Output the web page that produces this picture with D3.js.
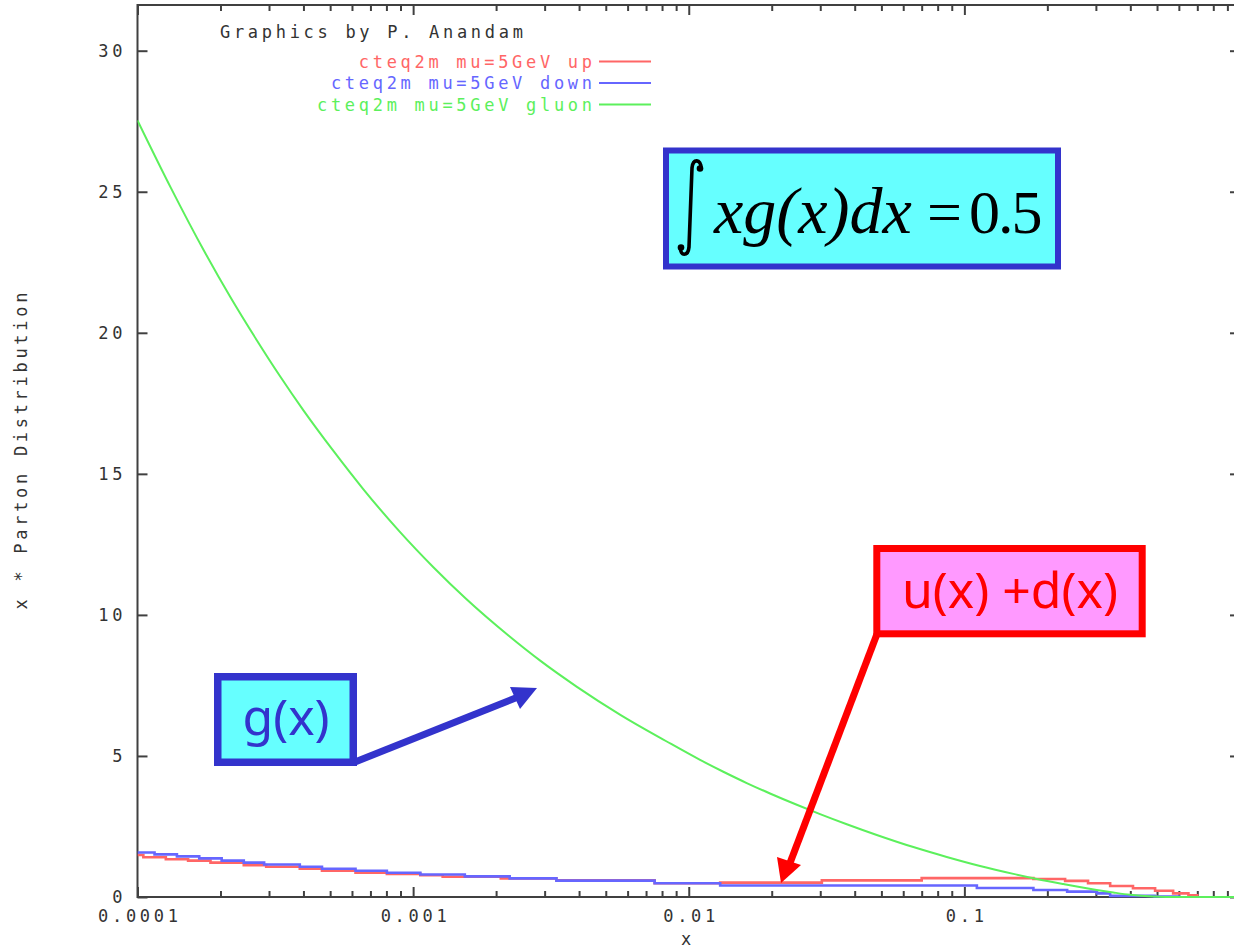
<!DOCTYPE html>
<html>
<head>
<meta charset="utf-8">
<script src="https://cdn.jsdelivr.net/npm/d3@7"></script>
<style>
  body { margin: 0; background: #ffffff; }
  svg { display: block; }
</style>
</head>
<body>
<svg id="chart" width="1234" height="950"></svg>
<script>
// CTEQ2M parton distributions x*f(x) at mu = 5 GeV, log-x axis

// x axis ticks (the label at x = 1 falls outside the page, so it stays blank)
const xTickValues = [1e-4, 1e-3, 1e-2, 1e-1, 1];
const xTickLabels = ["0.0001", "0.001", "0.01", "0.1", ""];
// y axis ticks
const yTickValues = [0, 5, 10, 15, 20, 25, 30];
const yTickLabels = ["0", "5", "10", "15", "20", "25", "30"];

// series names for the key
const seriesNames = ["cteq2m mu=5GeV up", "cteq2m mu=5GeV down", "cteq2m mu=5GeV gluon"];

// up quark: step knots (x, x*u)
const upX = [1e-4, 1.05e-4, 1.267e-4, 1.526e-4, 1.84e-4, 2.43e-4, 2.93e-4, 3.88e-4, 4.67e-4,
             6.18e-4, 8.03e-4, 1.062e-3, 1.28e-3, 2.08e-3, 3.31e-3, 7.52e-3, 1.30e-2,
             3.04e-2, 7.0e-2, 0.178, 0.232, 0.281, 0.338, 0.409, 0.492, 0.572, 0.65, 0.70];
const upY = [1.49, 1.41, 1.34, 1.29, 1.22, 1.13, 1.07, 1.00, 0.93,
             0.86, 0.82, 0.77, 0.72, 0.66, 0.59, 0.49, 0.51,
             0.59, 0.67, 0.64, 0.57, 0.49, 0.39, 0.31, 0.22, 0.13, 0.06, 0.0];

// down quark: step knots (x, x*d)
const downX = [1e-4, 1.153e-4, 1.39e-4, 1.675e-4, 2.02e-4, 2.43e-4, 2.88e-4, 3.88e-4, 4.67e-4,
               6.18e-4, 8.03e-4, 1.062e-3, 1.54e-3, 2.24e-3, 3.31e-3, 7.52e-3, 1.30e-2,
               0.111, 0.178, 0.236, 0.303, 0.338, 0.49, 0.60];
const downY = [1.58, 1.51, 1.44, 1.37, 1.29, 1.22, 1.15, 1.07, 1.00,
               0.93, 0.86, 0.80, 0.73, 0.66, 0.58, 0.49, 0.41,
               0.32, 0.25, 0.19, 0.13, 0.04, 0.02, 0.0];

// gluon: sampled points (x, x*g)
const gluonX = [1e-4, 1.323e-4, 1.745e-4, 2.177e-4, 2.716e-4, 3.295e-4, 4.0e-4, 5.13e-4, 6.58e-4,
                8.92e-4, 1.187e-3, 1.552e-3, 2.223e-3, 2.907e-3, 3.917e-3, 5.685e-3, 8.26e-3,
                1.099e-2, 1.335e-2, 1.623e-2, 1.972e-2, 2.466e-2, 2.995e-2, 3.744e-2, 4.81e-2,
                6.53e-2, 8.63e-2, 0.114, 0.1506, 0.1832, 0.2287, 0.302, 0.347, 0.399, 0.484,
                0.6, 1.0];
const gluonY = [27.53, 25.13, 22.90, 21.25, 19.72, 18.45, 17.25, 15.82, 14.47,
                12.96, 11.68, 10.58, 9.26, 8.36, 7.46, 6.44, 5.53,
                4.86, 4.44, 4.04, 3.67, 3.27, 2.94, 2.58, 2.20,
                1.77, 1.42, 1.10, 0.82, 0.64, 0.46, 0.25, 0.16, 0.08, 0.02,
                0.0, 0.0];

const svg = d3.select("#chart");
const mono = "'DejaVu Sans Mono', 'Liberation Mono', monospace";
const LS = 3.7;            // letter spacing of the terminal-style font
const axisColor = "#404040";
const textColor = "#333333";

const frame = { left: 137.5, right: 1240, top: 5, bottom: 897 };

const x = d3.scaleLog().domain([1e-4, 1]).range([frame.left, frame.right]);
const y = d3.scaleLinear().domain([0, 30]).range([frame.bottom, 50.7]);

// minor log ticks 2..9 per decade
const minorTicks = [];
[1e-4, 1e-3, 1e-2, 1e-1].forEach(dec => {
  for (let k = 2; k <= 9; k++) minorTicks.push(dec * k);
});

function styleAxis(g) {
  g.select(".domain").remove();
  g.selectAll(".tick line").attr("stroke", axisColor).attr("stroke-width", 2);
  g.selectAll(".tick text")
    .attr("fill", textColor)
    .style("font-family", mono)
    .style("font-size", "17px")
    .style("letter-spacing", LS + "px");
}

// bottom axis, major ticks with labels
const gBottom = svg.append("g")
  .attr("transform", `translate(0,${frame.bottom})`)
  .call(d3.axisBottom(x).tickValues(xTickValues)
    .tickFormat((d, i) => xTickLabels[i]).tickSize(-10).tickPadding(13));
styleAxis(gBottom);
gBottom.selectAll(".tick text").attr("dx", LS / 2);

svg.append("g")
  .attr("transform", `translate(0,${frame.bottom})`)
  .call(d3.axisBottom(x).tickValues(minorTicks).tickFormat("").tickSize(-6))
  .call(styleAxis);

// top mirror ticks
svg.append("g")
  .attr("transform", `translate(0,${frame.top})`)
  .call(d3.axisTop(x).tickValues(xTickValues).tickFormat("").tickSize(-10))
  .call(styleAxis);
svg.append("g")
  .attr("transform", `translate(0,${frame.top})`)
  .call(d3.axisTop(x).tickValues(minorTicks).tickFormat("").tickSize(-6))
  .call(styleAxis);

// left axis with labels
const gLeft = svg.append("g")
  .attr("transform", `translate(${frame.left},0)`)
  .call(d3.axisLeft(y).tickValues(yTickValues)
    .tickFormat((d, i) => yTickLabels[i]).tickSize(-10).tickPadding(15));
styleAxis(gLeft);
gLeft.selectAll(".tick text").attr("dx", LS);

// right mirror ticks
svg.append("g")
  .attr("transform", `translate(${frame.right},0)`)
  .call(d3.axisRight(y).tickValues(yTickValues).tickFormat("").tickSize(-10))
  .call(styleAxis);

// frame
svg.append("rect")
  .attr("x", frame.left).attr("y", frame.top)
  .attr("width", frame.right - frame.left).attr("height", frame.bottom - frame.top)
  .attr("fill", "none").attr("stroke", axisColor).attr("stroke-width", 2);

// axis titles
svg.append("text")
  .attr("transform", "translate(27,451) rotate(-90)")
  .attr("text-anchor", "middle").attr("dx", LS / 2)
  .attr("fill", textColor)
  .style("font-family", mono).style("font-size", "17px").style("letter-spacing", LS + "px")
  .text("x * Parton Distribution");

svg.append("text")
  .attr("x", 686).attr("y", 945)
  .attr("text-anchor", "middle").attr("dx", LS / 2)
  .attr("fill", textColor)
  .style("font-family", mono).style("font-size", "17px").style("letter-spacing", LS + "px")
  .text("x");

// curves
svg.append("clipPath").attr("id", "plotClip")
  .append("rect")
  .attr("x", frame.left).attr("y", frame.top)
  .attr("width", frame.right - frame.left).attr("height", frame.bottom - frame.top + 1);

const plot = svg.append("g").attr("clip-path", "url(#plotClip)");
const stepLine = d3.line().x(d => x(d[0])).y(d => y(d[1])).curve(d3.curveStepAfter);
const smoothLine = d3.line().x(d => x(d[0])).y(d => y(d[1])).curve(d3.curveMonotoneX);

const colors = ["#ff6666", "#6666ff", "#5cf05c"];

plot.append("path").datum(d3.zip(upX, upY))
  .attr("d", stepLine).attr("fill", "none")
  .attr("stroke", colors[0]).attr("stroke-width", 2.6);
plot.append("path").datum(d3.zip(downX, downY))
  .attr("d", stepLine).attr("fill", "none")
  .attr("stroke", colors[1]).attr("stroke-width", 2.6);
plot.append("path").datum(d3.zip(gluonX, gluonY))
  .attr("d", smoothLine).attr("fill", "none")
  .attr("stroke", colors[2]).attr("stroke-width", 2);

// key
svg.append("text")
  .attr("x", 220).attr("y", 38)
  .attr("fill", textColor)
  .style("font-family", mono).style("font-size", "17px").style("letter-spacing", LS + "px")
  .text("Graphics by P. Anandam");

const keyRows = [61.5, 83, 104.5];
seriesNames.forEach((name, i) => {
  svg.append("text")
    .attr("x", 592).attr("y", keyRows[i] + 6)
    .attr("text-anchor", "end").attr("dx", LS)
    .attr("fill", colors[i])
    .style("font-family", mono).style("font-size", "17px").style("letter-spacing", LS + "px")
    .text(name);
  svg.append("line")
    .attr("x1", 599).attr("x2", 651)
    .attr("y1", keyRows[i]).attr("y2", keyRows[i])
    .attr("stroke", colors[i]).attr("stroke-width", 2);
});

// annotation: momentum sum of the gluon
const boxBlue = "#3333cc";
svg.append("rect")
  .attr("x", 666).attr("y", 150.5).attr("width", 392).attr("height", 116)
  .attr("fill", "#66ffff").attr("stroke", boxBlue).attr("stroke-width", 6);

// integral sign
svg.append("path")
  .attr("d", "M 701 168 C 701 159, 693 158, 692 168 L 689 247 C 688 257, 680 256, 680.5 248")
  .attr("fill", "none").attr("stroke", "#000").attr("stroke-width", 3.6)
  .attr("stroke-linecap", "round");
svg.append("circle").attr("cx", 700).attr("cy", 168.5).attr("r", 3.3).attr("fill", "#000");
svg.append("circle").attr("cx", 681).attr("cy", 247.5).attr("r", 3.3).attr("fill", "#000");

const serif = "'Liberation Serif', 'Times New Roman', serif";
svg.append("text")
  .attr("x", 714).attr("y", 233)
  .style("font-family", serif).style("font-size", "66px").style("font-style", "italic")
  .attr("fill", "#000").text("xg(x)dx");
svg.append("text")
  .attr("x", 927).attr("y", 233)
  .style("font-family", serif).style("font-size", "62px")
  .attr("fill", "#000").text("=");
svg.append("text")
  .attr("x", 969).attr("y", 233)
  .style("font-family", serif).style("font-size", "62px").style("letter-spacing", "-2px")
  .attr("fill", "#000").text("0.5");

// annotation: g(x)
const sans = "'Noto Sans', 'DejaVu Sans', sans-serif";
svg.append("rect")
  .attr("x", 217.75).attr("y", 676.75).attr("width", 135.5).attr("height", 85.5)
  .attr("fill", "#66ffff").attr("stroke", boxBlue).attr("stroke-width", 7.5);
svg.append("text")
  .attr("x", 286).attr("y", 735).attr("text-anchor", "middle")
  .style("font-family", sans).style("font-size", "50px")
  .attr("fill", boxBlue).text("g(x)");
svg.append("line")
  .attr("x1", 355).attr("y1", 762).attr("x2", 518).attr("y2", 697)
  .attr("stroke", boxBlue).attr("stroke-width", 7);
svg.append("polygon")
  .attr("points", "537,688 510,687 520,709")
  .attr("fill", boxBlue);

// annotation: u(x) + d(x)
svg.append("rect")
  .attr("x", 876.8).attr("y", 548.5).attr("width", 265.4).attr("height", 85.3)
  .attr("fill", "#ff99ff").attr("stroke", "#ff0000").attr("stroke-width", 7);
svg.append("text")
  .attr("x", 1010).attr("y", 608).attr("text-anchor", "middle")
  .style("font-family", sans).style("font-size", "50px")
  .attr("fill", "#ff0000").text("u(x) +d(x)");
svg.append("line")
  .attr("x1", 877).attr("y1", 634).attr("x2", 790).attr("y2", 863)
  .attr("stroke", "#ff0000").attr("stroke-width", 7);
svg.append("polygon")
  .attr("points", "781,883 777,857 801,865")
  .attr("fill", "#ff0000");
</script>
</body>
</html>
